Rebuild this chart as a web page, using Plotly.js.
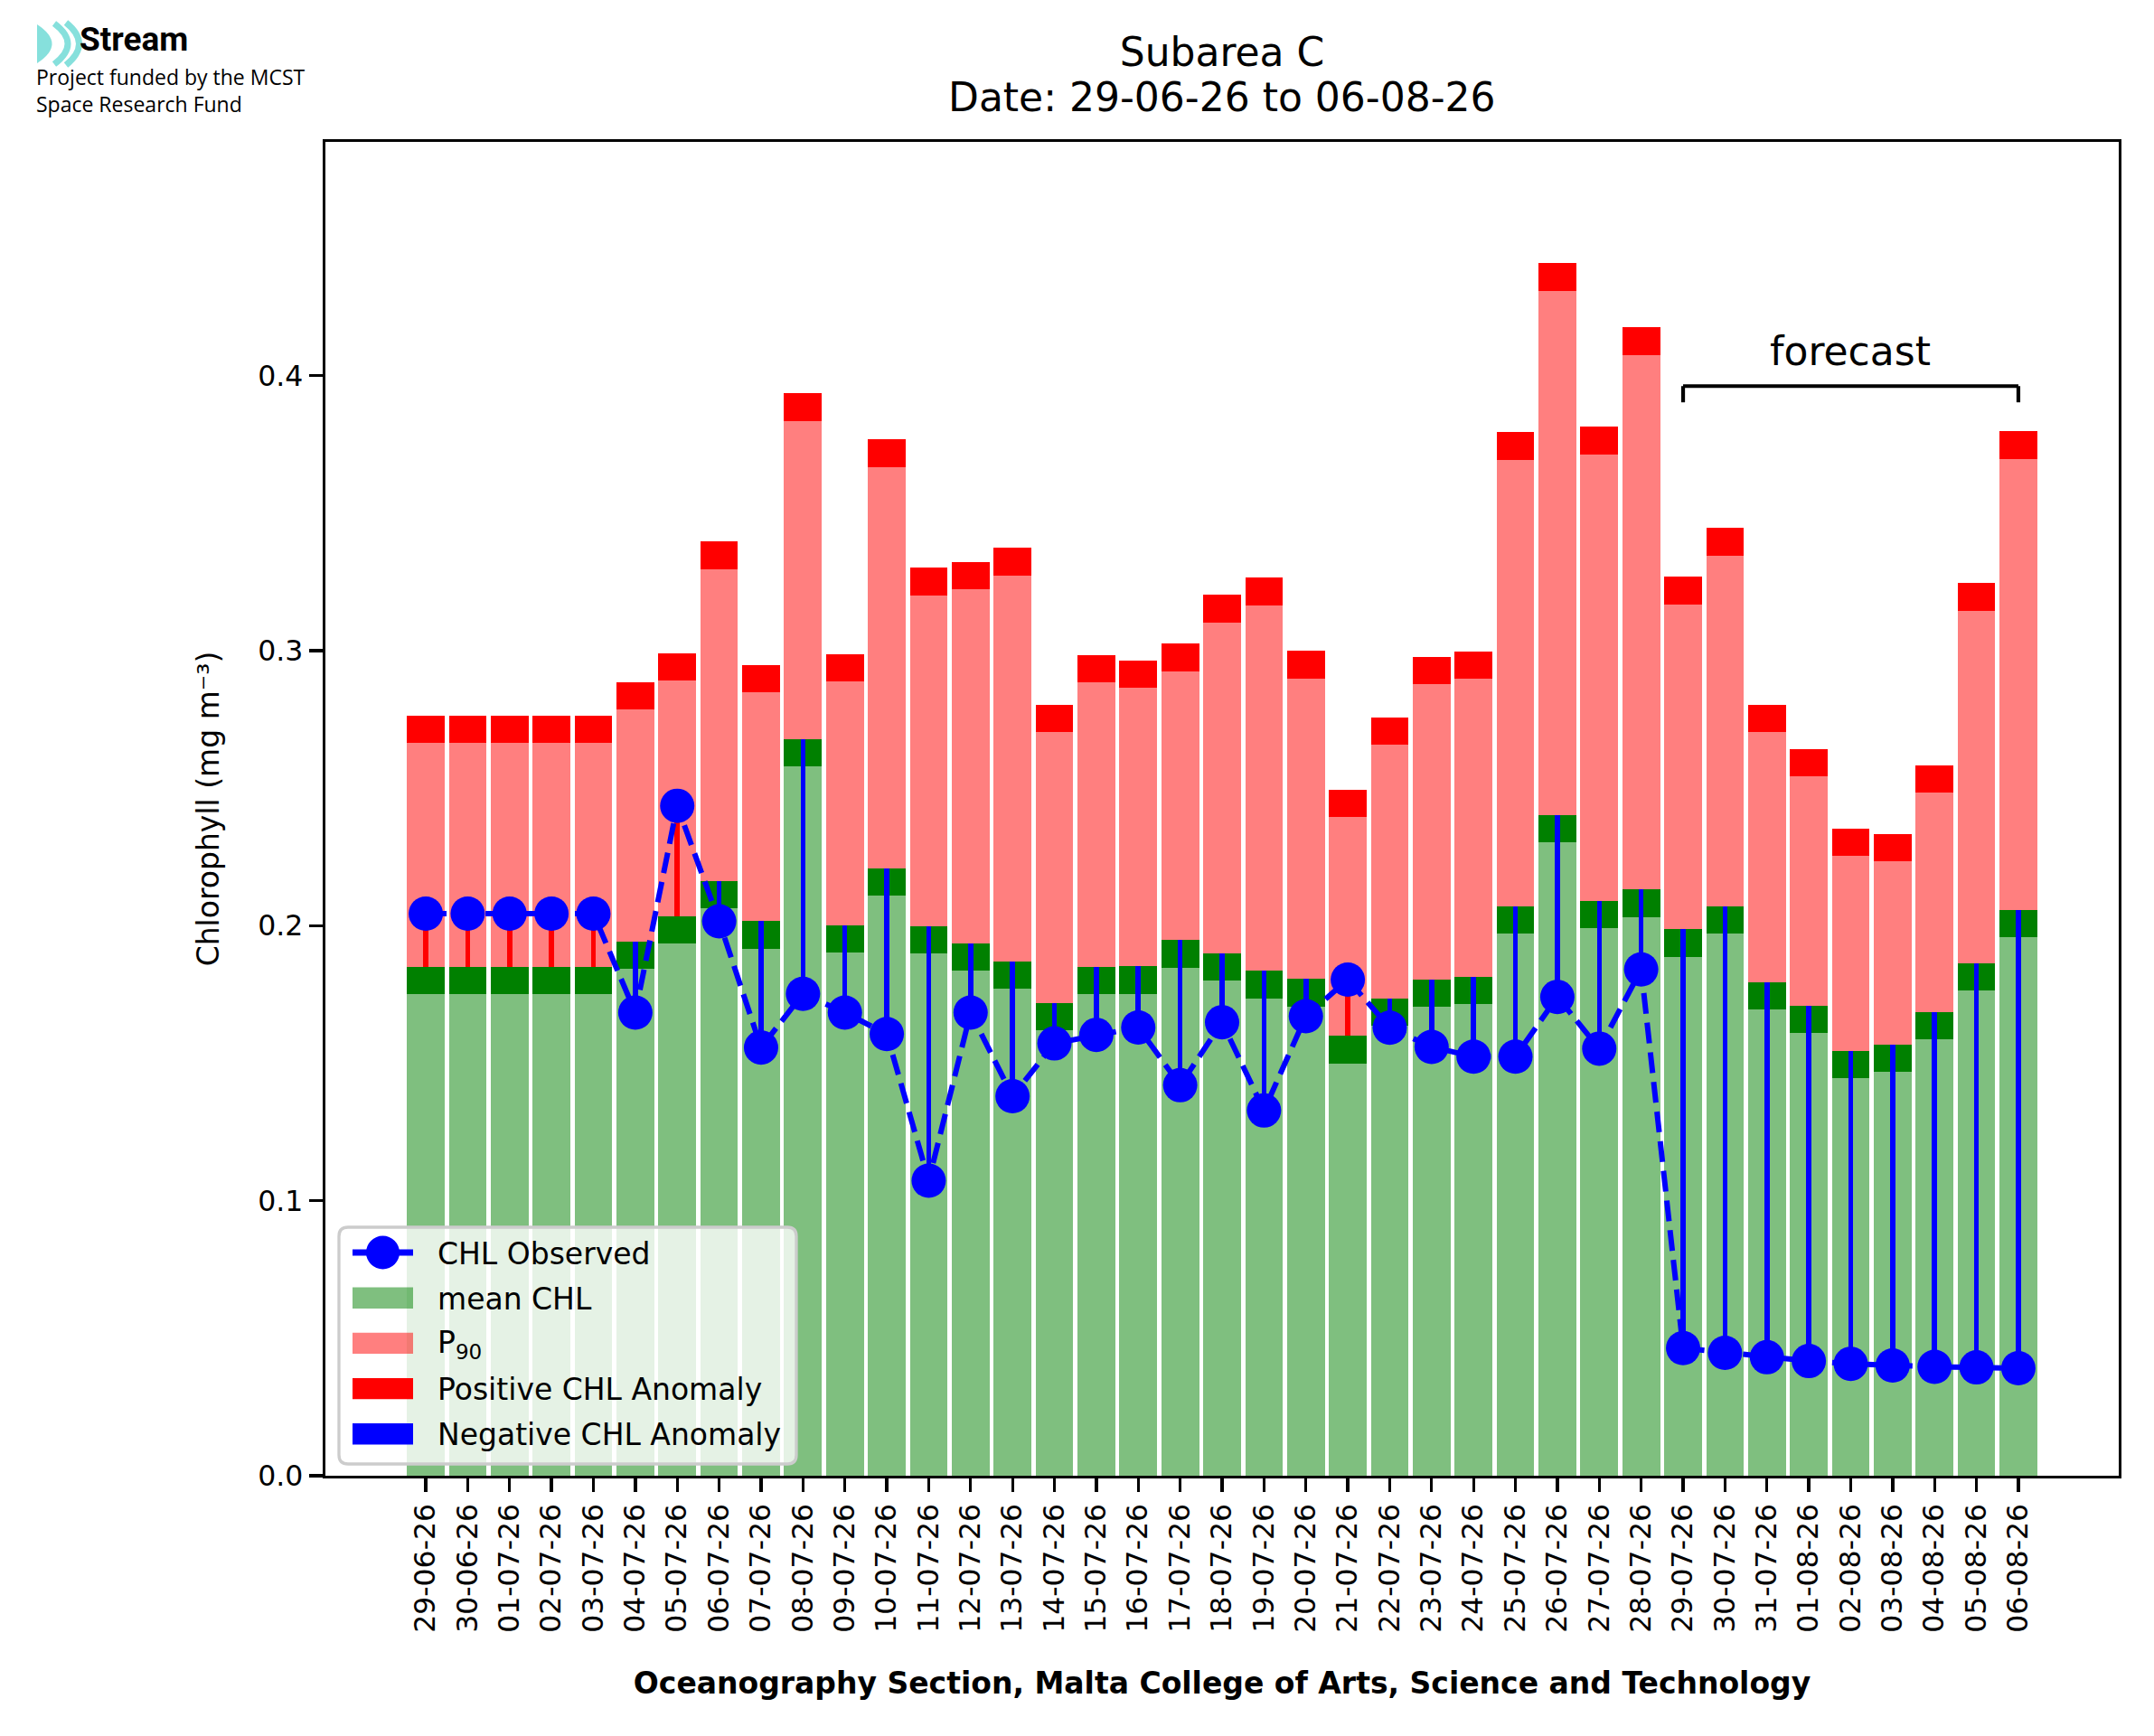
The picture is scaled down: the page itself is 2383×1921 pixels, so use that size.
<!DOCTYPE html>
<html>
<head>
<meta charset="utf-8">
<script src="https://cdn.plot.ly/plotly-3.0.1.min.js"></script>
<style>
  html, body { margin: 0; padding: 0; background: #ffffff; }
  #chart { width: 2383px; height: 1921px; }
</style>
</head>
<body>
<div id="chart"></div>
<script>
// daily chlorophyll values
let days = ['29-06-26', '30-06-26', '01-07-26', '02-07-26', '03-07-26', '04-07-26', '05-07-26',
    '06-07-26', '07-07-26', '08-07-26', '09-07-26', '10-07-26', '11-07-26', '12-07-26', '13-07-26',
    '14-07-26', '15-07-26', '16-07-26', '17-07-26', '18-07-26', '19-07-26', '20-07-26', '21-07-26',
    '22-07-26', '23-07-26', '24-07-26', '25-07-26', '26-07-26', '27-07-26', '28-07-26', '29-07-26',
    '30-07-26', '31-07-26', '01-08-26', '02-08-26', '03-08-26', '04-08-26', '05-08-26', '06-08-26'];

let chlMean = [0.185, 0.185, 0.185, 0.185, 0.185, 0.1943, 0.2034, 0.2162, 0.2017, 0.2678, 0.2001,
    0.2208, 0.1998, 0.1936, 0.187, 0.1719, 0.185, 0.1852, 0.1948, 0.19, 0.1836, 0.1807, 0.16,
    0.1735, 0.1804, 0.1814, 0.2071, 0.2403, 0.2091, 0.2132, 0.1987, 0.2071, 0.1794, 0.1709,
    0.1545, 0.1568, 0.1686, 0.1863, 0.2057];

let chlP90 = [0.2664, 0.2664, 0.2664, 0.2664, 0.2664, 0.2785, 0.289, 0.3297, 0.2848, 0.3836, 0.2887,
    0.3668, 0.3202, 0.3222, 0.3274, 0.2703, 0.2884, 0.2864, 0.2926, 0.3103, 0.3165, 0.2899, 0.2394,
    0.2657, 0.2877, 0.2897, 0.3694, 0.4309, 0.3714, 0.4075, 0.3169, 0.3346, 0.2703, 0.2542,
    0.2253, 0.2233, 0.2484, 0.3146, 0.3697];

let chlObserved = [0.2044, 0.2044, 0.2044, 0.2044, 0.2044, 0.1684, 0.2436, 0.2016, 0.1557, 0.1752,
    0.1684, 0.1606, 0.1073, 0.1684, 0.138, 0.1572, 0.1603, 0.163, 0.142, 0.1649, 0.1328, 0.1671,
    0.1804, 0.1629, 0.1559, 0.1524, 0.1524, 0.1741, 0.1553, 0.1841, 0.0464, 0.0447, 0.0431,
    0.0417, 0.0407, 0.0401, 0.0396, 0.0394, 0.0391];

// first and last forecast day
let forecastDays = ['29-07-26', '06-08-26'];

let band = 0.01;   // thickness of the dark caps on top of the bars

// pixel -> paper helpers for things drawn outside the axes
let W = 2383, H = 1921;
let mL = 360, mR = 39, mT = 157, mB = 288;
function px(x) { return (x - mL) / (W - mL - mR); }
function py(y) { return (H - mB - y) / (H - mT - mB); }

function buildTraces() {
    let n = days.length;
    let meanBase = [], p90Height = [], redBase = [];
    let posBase = [], posHeight = [], negBase = [], negHeight = [];

    for (let i = 0; i < n; i++) {
        meanBase.push(chlMean[i] - band);
        p90Height.push(chlP90[i] - chlMean[i]);
        redBase.push(chlP90[i]);
        let d = chlObserved[i] - chlMean[i];
        if (d > 0) {
            posBase.push(chlMean[i]); posHeight.push(d);
            negBase.push(null); negHeight.push(null);
        } else {
            negBase.push(chlObserved[i]); negHeight.push(-d);
            posBase.push(null); posHeight.push(null);
        }
    }

    let observed = {
        x: days, y: chlObserved, type: 'scatter', mode: 'lines+markers',
        name: 'CHL Observed',
        line: { color: '#0000ff', width: 6, dash: '23px,10px' },
        marker: { color: '#0000ff', size: 38 }
    };
    let mean = {
        x: days, y: chlMean, type: 'bar', width: 0.9, name: 'mean CHL',
        marker: { color: 'rgba(0,128,0,0.5)', line: { width: 0 } }
    };
    let meanCap = {
        x: days, y: days.map(function () { return band; }), base: meanBase,
        type: 'bar', width: 0.9, showlegend: false,
        marker: { color: '#008000', line: { width: 0 } }
    };
    let p90 = {
        x: days, y: p90Height, base: chlMean, type: 'bar', width: 0.9, name: 'P<sub>90</sub>',
        marker: { color: 'rgba(255,0,0,0.5)', line: { width: 0 } }
    };
    let p90Cap = {
        x: days, y: days.map(function () { return band; }), base: redBase,
        type: 'bar', width: 0.9, showlegend: false,
        marker: { color: '#ff0000', line: { width: 0 } }
    };
    let positive = {
        x: days, y: posHeight, base: posBase, type: 'bar', width: 0.12,
        name: 'Positive CHL Anomaly',
        marker: { color: '#ff0000', line: { width: 0 } }
    };
    let negative = {
        x: days, y: negHeight, base: negBase, type: 'bar', width: 0.12,
        name: 'Negative CHL Anomaly',
        marker: { color: '#0000ff', line: { width: 0 } }
    };

    return [observed, mean, meanCap, p90, p90Cap, positive, negative];
}

// matplotlib-like legend box (wide patches), built from the traces
function legendItems(traces, font) {
    let shapes = [], notes = [];
    let left = 375, right = 881, top = 1358, bottom = 1620, r = 10;
    let box = 'M' + px(left + r) + ',' + py(top) +
        ' L' + px(right - r) + ',' + py(top) + ' Q' + px(right) + ',' + py(top) + ' ' + px(right) + ',' + py(top + r) +
        ' L' + px(right) + ',' + py(bottom - r) + ' Q' + px(right) + ',' + py(bottom) + ' ' + px(right - r) + ',' + py(bottom) +
        ' L' + px(left + r) + ',' + py(bottom) + ' Q' + px(left) + ',' + py(bottom) + ' ' + px(left) + ',' + py(bottom - r) +
        ' L' + px(left) + ',' + py(top + r) + ' Q' + px(left) + ',' + py(top) + ' ' + px(left + r) + ',' + py(top) + ' Z';
    shapes.push({ type: 'path', xref: 'paper', yref: 'paper', layer: 'above', path: box,
        fillcolor: 'rgba(255,255,255,0.8)', line: { color: '#cccccc', width: 3.3 } });

    let rowY = 1386, step = 50.2;
    traces.filter(function (t) { return t.showlegend !== false; }).forEach(function (t, k) {
        let yc = rowY + k * step;
        if (t.type === 'scatter') {
            shapes.push({ type: 'line', xref: 'paper', yref: 'paper', layer: 'above',
                x0: px(390), x1: px(457), y0: py(yc), y1: py(yc),
                line: { color: t.line.color, width: 7 } });
            shapes.push({ type: 'circle', xref: 'paper', yref: 'paper', layer: 'above',
                x0: px(423.5 - 18.5), x1: px(423.5 + 18.5), y0: py(yc - 18.5), y1: py(yc + 18.5),
                fillcolor: t.marker.color, line: { width: 0 } });
        } else {
            shapes.push({ type: 'rect', xref: 'paper', yref: 'paper', layer: 'above',
                x0: px(390), x1: px(457), y0: py(yc - 11.7), y1: py(yc + 11.7),
                fillcolor: t.marker.color, line: { width: 0 } });
        }
        notes.push({ text: t.name, xref: 'paper', yref: 'paper', x: px(482), y: py(yc + 1),
            xanchor: 'left', yanchor: 'middle', showarrow: false,
            font: { family: font, size: 33, color: '#000000' } });
    });
    return { shapes: shapes, notes: notes };
}

function graph() {
    let font = 'DejaVu Sans, sans-serif';
    let traces = buildTraces();
    let legend = legendItems(traces, font);
    let x0 = days.indexOf(forecastDays[0]);
    let x1 = days.indexOf(forecastDays[1]);

    let axisStyle = {
        showline: true, mirror: true, linecolor: '#000000', linewidth: 3.3,
        ticks: 'outside', ticklen: 15, tickwidth: 3.3, tickcolor: '#000000',
        showgrid: false, zeroline: false, automargin: false,
        tickfont: { family: font, size: 31.5, color: '#000000' }
    };

    let layout = {
        width: W, height: H,
        margin: { l: mL, r: mR, t: mT, b: mB },
        paper_bgcolor: '#ffffff', plot_bgcolor: '#ffffff',
        barmode: 'overlay', bargap: 0, showlegend: false,
        font: { family: font, color: '#000000' },
        title: {
            text: 'Subarea C',
            font: { family: font, size: 44, color: '#000000' },
            xref: 'paper', x: 0.5, xanchor: 'center',
            yref: 'container', y: 1 - 58 / H, yanchor: 'middle'
        },
        xaxis: Object.assign({}, axisStyle, {
            type: 'category', range: [-2.395, 40.395], tickangle: -90,
            title: {
                text: 'Oceanography Section, Malta College of Arts, Science and Technology',
                font: { family: font, size: 33, weight: 'bold', color: '#000000' },
                standoff: 46
            }
        }),
        yaxis: Object.assign({}, axisStyle, {
            range: [0, 0.485], dtick: 0.1, tickformat: '.1f',
            title: {
                text: 'Chlorophyll (mg m⁻³)',
                font: { family: font, size: 33, color: '#000000' },
                standoff: 33
            }
        }),
        shapes: [
            // forecast bracket
            { type: 'line', xref: 'x', yref: 'y', x0: x0, x1: x1, y0: 0.3962, y1: 0.3962,
              line: { color: '#000000', width: 4.2 } },
            { type: 'line', xref: 'x', yref: 'y', x0: x0, x1: x0, y0: 0.3962, y1: 0.3903,
              line: { color: '#000000', width: 4.2 } },
            { type: 'line', xref: 'x', yref: 'y', x0: x1, x1: x1, y0: 0.3962, y1: 0.3903,
              line: { color: '#000000', width: 4.2 } },
            // Stream logo mark
            { type: 'path', xref: 'paper', yref: 'paper', layer: 'above',
              path: 'M' + px(41) + ',' + py(27) + ' Q' + px(74) + ',' + py(48.5) + ' ' + px(41) + ',' + py(70) + ' Z',
              fillcolor: '#86e0dc', line: { width: 0 } },
            { type: 'path', xref: 'paper', yref: 'paper', layer: 'above',
              path: 'M' + px(60) + ',' + py(26) + ' Q' + px(90) + ',' + py(48.5) + ' ' + px(60) + ',' + py(71),
              line: { color: '#86e0dc', width: 7 } },
            { type: 'path', xref: 'paper', yref: 'paper', layer: 'above',
              path: 'M' + px(73) + ',' + py(25) + ' Q' + px(102) + ',' + py(48.5) + ' ' + px(73) + ',' + py(72),
              line: { color: '#86e0dc', width: 7 } }
        ].concat(legend.shapes),
        annotations: [
            { text: 'Date: 29-06-26 to 06-08-26', xref: 'paper', yref: 'paper', x: 0.5, y: py(107),
              xanchor: 'center', yanchor: 'middle', showarrow: false,
              font: { family: font, size: 44, color: '#000000' } },
            { text: 'forecast', xref: 'x', yref: 'y', x: (x0 + x1) / 2, y: 0.409,
              xanchor: 'center', yanchor: 'middle', showarrow: false,
              font: { family: font, size: 44, color: '#000000' } },
            { text: '<b>Stream</b>', xref: 'paper', yref: 'paper', x: px(86), y: py(67),
              xanchor: 'left', yanchor: 'bottom', showarrow: false,
              font: { family: 'Roboto', size: 37, color: '#000000' } },
            { text: 'Project funded by the MCST<br>Space Research Fund', xref: 'paper', yref: 'paper',
              x: px(38), y: py(67), xanchor: 'left', yanchor: 'top', align: 'left', showarrow: false,
              font: { family: 'Open Sans', size: 23, color: '#000000' } }
        ].concat(legend.notes)
    };

    Plotly.newPlot('chart', traces, layout, { staticPlot: true });
}

graph();
</script>
</body>
</html>
